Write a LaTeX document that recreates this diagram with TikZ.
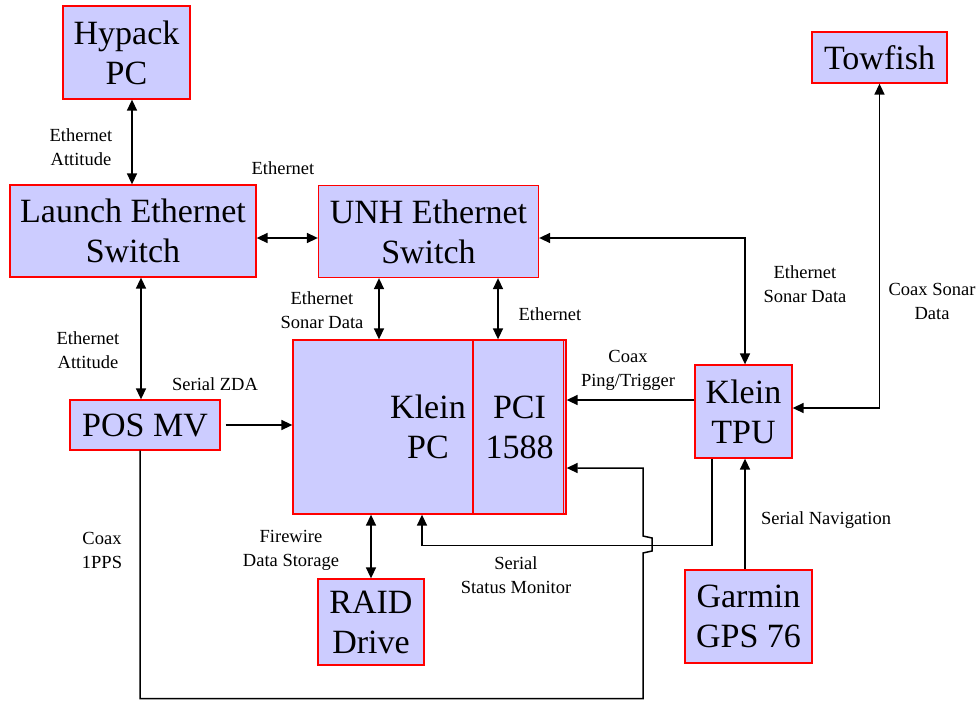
\documentclass[tikz,border=0pt]{standalone}
\usepackage{fontspec}
\setmainfont{Liberation Serif}
\usetikzlibrary{arrows.meta}
\definecolor{boxfill}{RGB}{204,204,255}
\definecolor{boxline}{RGB}{255,0,0}
\tikzset{net/.style={x=1pt,y=-1pt}}
\tikzset{unit/.style={draw=boxline,fill=boxfill,line width=1.3pt,align=center,inner sep=0pt,font=\fontsize{34}{40}\selectfont},
         link/.style={black,line width=1.5pt},
         tip/.style={-{Triangle[length=11pt,width=10pt]}},
         both/.style={{Triangle[length=11pt,width=10pt]}-{Triangle[length=11pt,width=10pt]}},
         note/.style={font=\fontsize{18.5}{24}\selectfont,align=center,inner sep=0pt}}

\begin{document}
\begin{tikzpicture}[net]
    \useasboundingbox (0,0) rectangle (980,701);
    % units
    \node[unit,minimum width=127pt,minimum height=93pt] (hypack)  at (126.5,52.5)  {Hypack\\PC};
    \node[unit,minimum width=135pt,minimum height=51pt] (towfish) at (879.5,57.5)  {Towfish};
    \node[unit,minimum width=246pt,minimum height=92pt] (launch)  at (133,231)     {Launch Ethernet\\Switch};
    \node[unit,minimum width=220pt,minimum height=92pt] (unh)     at (428.5,231.5) {UNH Ethernet\\Switch};
    \node[unit,minimum width=180pt,minimum height=174pt] (kleinpc) at (383,427)    {};
    \node[unit,minimum width=93pt,minimum height=174pt]  (pci)     at (519.5,427)  {PCI\\1588};
    \node[unit,draw=none,fill=none] (kleintxt) at (428,427) {Klein\\PC};
    \node[unit,minimum width=150pt,minimum height=50pt] (posmv)   at (145,425)     {POS MV};
    \node[unit,minimum width=97pt,minimum height=93pt]  (tpu)     at (743.5,411.5) {Klein\\TPU};
    \node[unit,minimum width=106pt,minimum height=86pt] (raid)    at (371,622)     {RAID\\Drive};
    \node[unit,minimum width=127pt,minimum height=93pt] (garmin)  at (748.5,616.5) {Garmin\\GPS 76};
    \draw[boxline,line width=1.3pt] ([xshift=-3pt]pci.north east) -- ([xshift=-3pt]pci.south east);
    \coordinate (hop) at (643,553);
    % links
    \draw[link,both] ([xshift=5.5pt]hypack.south) -- ([xshift=5.5pt]hypack.south |- launch.north);
    \draw[link,both] ([yshift=-7pt]launch.east) -- ([yshift=-7pt]launch.east -| unh.west);
    \draw[link,both] ([yshift=-6.5pt]unh.east) -| ([xshift=1.5pt]tpu.north);
    \draw[link,both] (towfish.south) |- ([yshift=3.5pt]tpu.east);
    \draw[link,both] ([xshift=-4pt]posmv.north) -- ([xshift=-4pt]posmv.north |- launch.south);
    \draw[link,tip]  ([xshift=5pt]posmv.east) -- (posmv.east -| kleinpc.west);
    \draw[link,both] ([xshift=-49.5pt]unh.south) -- ([xshift=-49.5pt]unh.south |- kleinpc.north);
    \draw[link,both] ([xshift=69.5pt]unh.south) -- ([xshift=69.5pt]unh.south |- pci.north);
    \draw[link,tip]  ([yshift=11.5pt]tpu.west) -- ([yshift=11.5pt]tpu.west -| pci.east);
    \draw[link,tip]  ([xshift=-31.5pt]tpu.south) -- ++(0,87) -| ([xshift=39pt]kleinpc.south);
    \draw[link,tip]  ([xshift=-5pt]posmv.south) -- ++(0,248) -| (hop) -- ++(9,-2) -- ++(0,-13) -- ++(-9,-2)
                     |- ([yshift=-41pt]pci.east);   % hops over the status line
    \draw[link,both] (raid.north |- kleinpc.south) -- (raid.north);
    \draw[link,tip]  ([xshift=1.5pt]tpu.south |- garmin.north) -- ([xshift=1.5pt]tpu.south);
    % labels
    \node[note] (n1)  at (81,147)  {Ethernet\\Attitude};
    \node[note] (n2)  at (283,168) {Ethernet};
    \node[note] (n3)  at (805,284) {Ethernet\\Sonar Data};
    \node[note] (n4)  at (932,301) {Coax Sonar\\Data};
    \node[note] (n5)  at (88,350)  {Ethernet\\Attitude};
    \node[note] (n6)  at (215,384) {Serial ZDA};
    \node[note] (n7)  at (322,310) {Ethernet\\Sonar Data};
    \node[note] (n8)  at (550,314) {Ethernet};
    \node[note] (n9)  at (628,370) {Coax\\Ping/Trigger};
    \node[note] (n10) at (516,575) {Serial\\Status Monitor};
    \node[note] (n11) at (102,550) {Coax\\1PPS};
    \node[note] (n12) at (291,550) {Firewire\\Data Storage};
    \node[note] (n13) at (826,520) {Serial Navigation};
\end{tikzpicture}
\end{document}
